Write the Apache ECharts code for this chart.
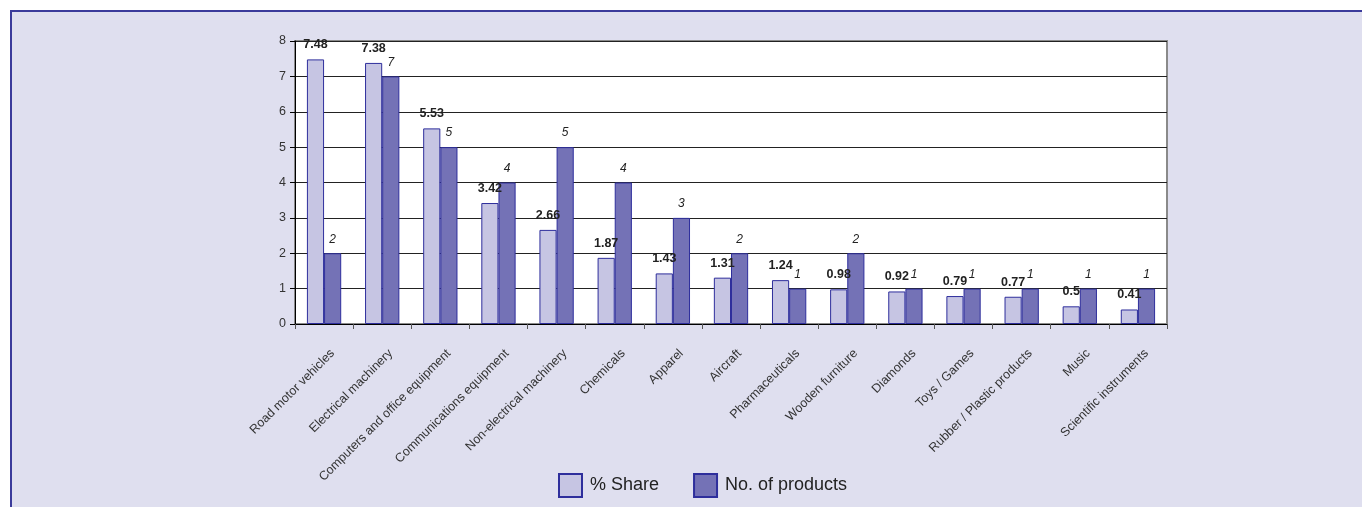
<!DOCTYPE html>
<html>
<head>
<meta charset="utf-8">
<script src="https://cdn.jsdelivr.net/npm/echarts@6/dist/echarts.min.js"></script>
<style>
html, body { margin: 0; padding: 0; background: #fff; }
#main { width: 1362px; height: 507px; }
</style>
</head>
<body>
<div id="main"></div>
<script>
var categories = ['Road motor vehicles', 'Electrical machinery', 'Computers and office equipment',
	'Communications equipment', 'Non-electrical machinery', 'Chemicals', 'Apparel', 'Aircraft',
	'Pharmaceuticals', 'Wooden furniture', 'Diamonds', 'Toys / Games', 'Rubber / Plastic products',
	'Music', 'Scientific instruments'];
var shareValues = [7.48, 7.38, 5.53, 3.42, 2.66, 1.87, 1.43, 1.31, 1.24, 0.98, 0.92, 0.79, 0.77, 0.5, 0.41];
var productValues = [2, 7, 5, 4, 5, 4, 3, 2, 1, 2, 1, 1, 1, 1, 1];
var yTicks = { min: 0, max: 8, interval: 1 };

var myChart = echarts.init(document.getElementById('main'));

var option = {
	backgroundColor: '#ffffff',
	animation: false,
	textStyle: { fontFamily: 'Liberation Sans, Arial, sans-serif' },
	// lavender frame behind the chart
	graphic: [
		{
			type: 'rect',
			z: -10,
			silent: true,
			shape: { x: 11, y: 11, width: 1400, height: 520 },
			style: { fill: '#dfdfef', stroke: '#3b3b9b', lineWidth: 2 }
		}
	],
	grid: {
		left: 295,
		right: 195,
		top: 41,
		bottom: 183,
		show: true,
		backgroundColor: '#ffffff',
		borderColor: '#8a8a8a',
		borderWidth: 2
	},
	legend: {
		left: 558,
		top: 473,
		padding: 0,
		itemWidth: 23,
		itemHeight: 23,
		itemGap: 34,
		icon: 'rect',
		textStyle: { fontSize: 18, color: '#222', padding: [0, 0, 0, 3] },
		data: ['% Share', 'No. of products']
	},
	xAxis: {
		type: 'category',
		data: categories,
		axisLine: { lineStyle: { color: '#000', width: 1 } },
		axisTick: { show: true, length: 5, alignWithLabel: false, lineStyle: { color: '#555' } },
		axisLabel: {
			rotate: 45,
			fontSize: 12.5,
			color: '#333',
			margin: 19,
			verticalAlign: 'top',
			lineHeight: 24,
			interval: 0
		}
	},
	yAxis: {
		type: 'value',
		min: yTicks.min,
		max: yTicks.max,
		interval: yTicks.interval,
		axisLine: { show: true, lineStyle: { color: '#000', width: 1 } },
		axisTick: { show: true, length: 5, lineStyle: { color: '#000' } },
		axisLabel: { fontSize: 12.5, color: '#333', margin: 9 },
		splitLine: { lineStyle: { color: '#222', width: 1 } }
	},
	series: [
		{
			name: '% Share',
			type: 'bar',
			barGap: '0%',
			barCategoryGap: '41%',
			itemStyle: { color: '#c6c5e3', borderColor: '#2e2e9c', borderWidth: 1 },
			label: {
				show: true,
				position: 'top',
				distance: 8,
				fontSize: 12.5,
				fontWeight: 'bold',
				color: '#222'
			},
			data: shareValues
		},
		{
			name: 'No. of products',
			type: 'bar',
			itemStyle: { color: '#7472b6', borderColor: '#2e2e9c', borderWidth: 1 },
			label: {
				show: true,
				position: 'top',
				distance: 8,
				fontSize: 12,
				fontStyle: 'italic',
				color: '#222'
			},
			data: productValues
		}
	]
};
myChart.setOption(option);
</script>
</body>
</html>
